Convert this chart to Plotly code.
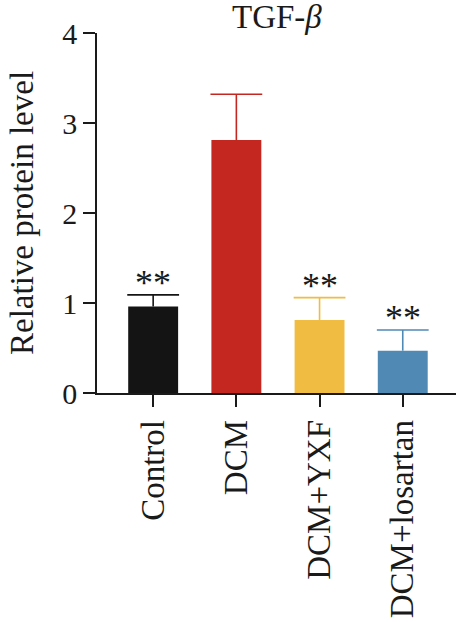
import plotly.graph_objects as go

categories = ["Control", "DCM", "DCM+YXF", "DCM+losartan"]
means = [0.96, 2.81, 0.81, 0.47]
errors = [0.13, 0.51, 0.25, 0.23]
colors = ["#141414", "#C4271F", "#F0BC42", "#5189B5"]
stars = ["**", "", "**", "**"]
y_ticks = [0, 1, 2, 3, 4]

FONT = "Liberation Serif"
INK = "#1a1a1a"

fig = go.Figure()
for i, c in enumerate(categories):
    # bar with an upward error stem (no caps)
    fig.add_trace(go.Bar(
        x=[c], y=[means[i]], width=0.6,
        marker=dict(color=colors[i], line=dict(width=0)),
        error_y=dict(type="data", array=[errors[i]], arrayminus=[0], symmetric=False,
                     color=colors[i], thickness=1.6, width=0),
        showlegend=False,
    ))
    # cap on top of the error stem
    fig.add_trace(go.Scatter(
        x=[c], y=[means[i] + errors[i]], mode="markers",
        marker=dict(symbol="line-ew", size=37, color=colors[i],
                    line=dict(color=colors[i], width=1.6)),
        showlegend=False, hoverinfo="skip",
    ))
    if stars[i]:
        fig.add_annotation(x=c, y=means[i] + errors[i], text=stars[i], showarrow=False,
                           yanchor="bottom", yshift=-10,
                           font=dict(family=FONT, size=36, color=INK))

fig.add_annotation(xref="paper", yref="paper", x=0.5, y=1, yshift=16,
                   text="TGF-<i>β</i>", showarrow=False, yanchor="middle",
                   font=dict(family=FONT, size=33, color=INK))

fig.add_annotation(xref="paper", yref="paper", x=0, y=0.5, xshift=-75,
                   text="Relative protein level", showarrow=False, textangle=-90,
                   xanchor="center", yanchor="middle",
                   font=dict(family=FONT, size=33, color=INK))

fig.update_layout(
    width=461, height=622,
    margin=dict(l=97, r=5, t=33, b=229),
    paper_bgcolor="white", plot_bgcolor="white",
    barmode="overlay",
    font=dict(family=FONT, size=30, color=INK),
    xaxis=dict(range=[-0.675, 3.64], showline=True, linecolor=INK, linewidth=1.6,
               ticks="outside", ticklen=12, tickwidth=1.6, tickcolor=INK,
               tickangle=-90, showgrid=False, zeroline=False,
               tickfont=dict(family=FONT, size=33, color=INK)),
    yaxis=dict(range=[0, 4], tickvals=y_ticks, showline=True, linecolor=INK, linewidth=1.6,
               ticks="outside", ticklen=12, tickwidth=1.6, tickcolor=INK,
               showgrid=False, zeroline=False,
               tickfont=dict(family=FONT, size=30, color=INK)),
)

fig.write_html("out.html")
